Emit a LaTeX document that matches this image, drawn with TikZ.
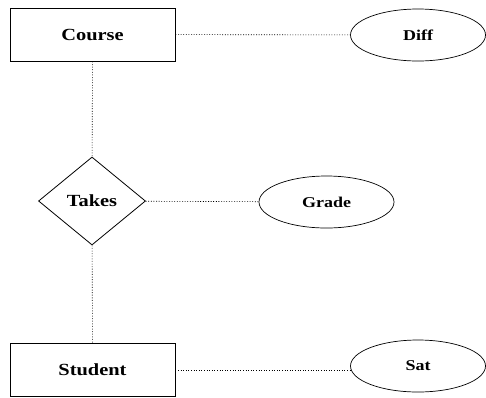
\documentclass[tikz,border=0pt]{standalone}
\usepackage{fontspec}
\setmainfont{Liberation Serif}[FakeStretch=1.2]
\usetikzlibrary{shapes.geometric}
\tikzset{
  entity/.style={draw, line width=0.8pt, minimum width=165pt, minimum height=53pt, font=\fontsize{17}{20}\selectfont\bfseries},
  attrib/.style={draw, ellipse, line width=0.7pt, minimum width=135pt, minimum height=52pt, inner sep=0pt, font=\fontsize{15}{18}\selectfont\bfseries},
  relation/.style={draw, diamond, line width=0.8pt, minimum width=107pt, minimum height=88pt, inner sep=0pt, font=\fontsize{17}{20}\selectfont\bfseries},
  link/.style={line width=0.6pt, dash pattern=on 1pt off 1.6pt}
}

\begin{document}
\begin{tikzpicture}[x=1pt, y=-1pt]
\useasboundingbox (0, 0) rectangle (486, 397);
\node[entity] (course) at (92.5, 34.5) {Course};
\node[attrib] (diff) at (418, 35) {Diff};
\node[relation] (takes) at (92, 201) {Takes};
\node[attrib] (grade) at (326.5, 202) {Grade};
\node[entity] (student) at (92.5, 370) {Student};
\node[attrib] (sat) at (418, 366) {Sat};
\draw[link] (course) -- (diff);
\draw[link] (course) -- (takes);
\draw[link] (takes) -- (grade);
\draw[link] (takes) -- (student);
\draw[link] (student.east) -- (sat.west |- student.east);
\end{tikzpicture}
\end{document}
